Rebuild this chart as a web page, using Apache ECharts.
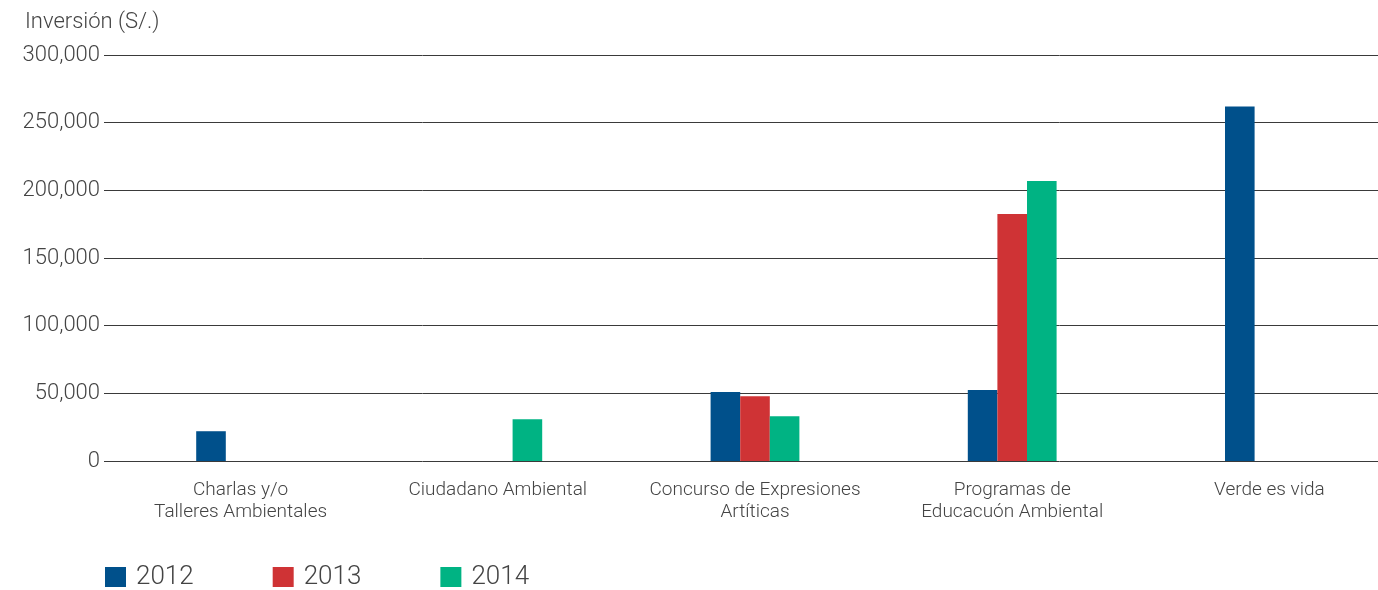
<!DOCTYPE html>
<html><head><meta charset="utf-8">
<script src="https://cdn.jsdelivr.net/npm/echarts@6/dist/echarts.min.js"></script>
<style>html,body{margin:0;padding:0;background:#fff}#c{width:1378px;height:590px}</style>
</head><body><div id="c"></div>
<script>
const categories = ['Charlas y/o\nTalleres Ambientales','Ciudadano Ambiental','Concurso de Expresiones\nArtíticas','Programas de\nEducacuón Ambiental','Verde es vida'];
const seriesNames = ['2012','2013','2014'];
const v2012 = [22000, null, 51000, 52400, 262000];
const v2013 = [null, null, 47800, 182600, null];
const v2014 = [null, 30900, 33100, 206900, null];
const colors = ['#00508b','#cf3335','#00b383'];
const yMax = 300000, yStep = 50000;
const FONT = 'Roboto';
const chart = echarts.init(document.getElementById('c'), null, {renderer:'canvas'});
const vals = [v2012, v2013, v2014];
chart.setOption({
  animation:false,
  textStyle:{fontFamily:FONT},
  title:{text:'Inversión (S/.)',left:20,top:6,textStyle:{fontFamily:FONT,fontWeight:300,fontSize:22,color:'#444'}},
  legend:{left:105,top:564,padding:0,itemWidth:21,itemHeight:20,itemGap:79,icon:'rect',
    textStyle:{fontFamily:FONT,fontWeight:300,fontSize:26,color:'#444',padding:[2,0,0,5]},
    data:seriesNames},
  grid:[
    {left:112,top:55,width:1286,height:406,outerBoundsMode:'none',containLabel:false},
    {left:104,top:55,right:0,height:406}
  ],
  xAxis:[
    {type:'category',gridIndex:0,data:categories,axisLine:{show:false},axisTick:{show:false},
     axisLabel:{margin:18,fontFamily:FONT,fontWeight:300,fontSize:19,color:'#444',lineHeight:22,interval:0}},
    {type:'value',gridIndex:1,show:false,min:0,max:1}
  ],
  yAxis:[
    {type:'value',gridIndex:0,min:0,max:yMax,interval:yStep,show:false,splitLine:{show:false}},
    {type:'value',gridIndex:1,min:0,max:yMax,interval:yStep,axisLine:{show:false},axisTick:{show:false},
     axisLabel:{margin:4,fontFamily:FONT,fontWeight:300,fontSize:22,color:'#444',
       formatter:v=>v.toLocaleString('en-US')},
     splitLine:{show:true,lineStyle:{color:'#3a3a3a',width:1}}}
  ],
  series: seriesNames.map((n,i)=>({
    name:n,type:'bar',xAxisIndex:0,yAxisIndex:0,data:vals[i],barWidth:29.6,barGap:'0%',
    itemStyle:{color:colors[i]}
  }))
});
</script></body></html>
